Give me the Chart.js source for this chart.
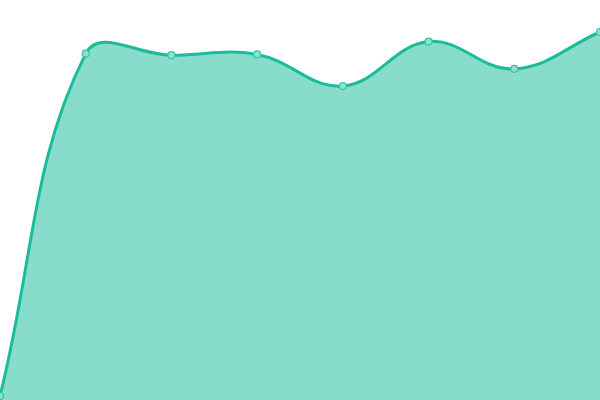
<!DOCTYPE html>
<html>
<head>
<meta charset="utf-8">
<script src="https://cdn.jsdelivr.net/npm/chart.js@4"></script>
<style>
  html, body { margin: 0; padding: 0; background: #fff; }
  #wrap { width: 600px; height: 400px; }
</style>
</head>
<body>
<div id="wrap"><canvas id="chart"></canvas></div>
<script>
// values (axis hidden, 0..100)
const labels = ['1', '2', '3', '4', '5', '6', '7', '8'];
const values = [1, 86.6, 86.2, 86.4, 78.5, 89.6, 82.8, 92];
const yMin = 0;
const yMax = 100;

new Chart(document.getElementById('chart'), {
    type: 'line',
    data: {
        labels,
        datasets: [{
            data: values,
            fill: true,
            backgroundColor: 'rgba(26, 188, 156, 0.52)',
            borderColor: '#1abc9c',
            borderWidth: 3,
            tension: 0.4,
            pointRadius: 3.5,
            pointBorderWidth: 1.2,
            pointBackgroundColor: '#8ee0cf',
            pointBorderColor: '#35c4a5'
        }]
    },
    options: {
        responsive: true,
        maintainAspectRatio: false,
        animation: false,
        layout: { padding: 0, autoPadding: false },
        plugins: { legend: { display: false }, tooltip: { enabled: false } },
        scales: {
            x: { display: false, offset: false },
            y: { display: false, min: yMin, max: yMax }
        }
    }
});
</script>
</body>
</html>
